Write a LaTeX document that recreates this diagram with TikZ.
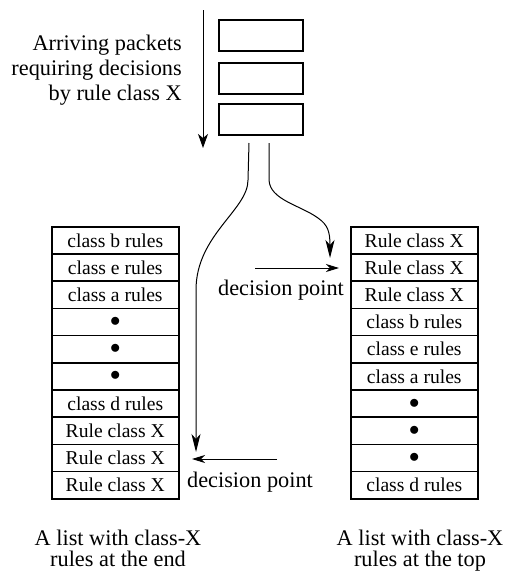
\documentclass[tikz,border=0pt]{standalone}
\usepackage{fontspec}
\setmainfont{Liberation Serif}
\usetikzlibrary{arrows.meta}
\begin{document}
\begin{tikzpicture}[x=1pt,y=-1pt,
  cell/.style={draw,line width=1.5pt,minimum width=127pt,minimum height=27.2pt,inner sep=0pt,font=\fontsize{19.6}{22}\selectfont,anchor=north west},
  pkt/.style={draw,line width=1.5pt,minimum width=84pt,minimum height=31pt,inner sep=0pt,anchor=north west},
  lbl/.style={font=\fontsize{22.3}{25}\selectfont,inner sep=0pt},
  arr/.style={line width=1pt,-{Stealth[length=14pt,width=10pt,inset=4pt]}},
  carr/.style={line width=1pt,-{Stealth[length=18pt,width=9pt,inset=5pt]}},
  darr/.style={line width=1pt,-{Stealth[length=13pt,width=8pt,inset=4pt]}}
]
\useasboundingbox (0,0) rectangle (507,573);

% arriving packets
\node[pkt] (p1) at (218,19) {};
\node[pkt] (p2) at (218,62) {};
\node[pkt] (p3) at (218,103) {};
\coordinate (vs) at (203,10);
\coordinate (ve) at (203,148);
\draw[arr] (vs) -- (ve);
\node[lbl,anchor=base east] (t1) at (182,50) {Arriving packets};
\node[lbl,anchor=base east] (t2) at (182,75) {requiring decisions};
\node[lbl,anchor=base east] (t3) at (182,100) {by rule class X};

% left list
\foreach \t [count=\i from 0] in {class b rules,class e rules,class a rules,$\bullet$,$\bullet$,$\bullet$,class d rules,Rule class X,Rule class X,Rule class X}
  \node[cell] (L\i) at (51,226+27.2*\i) {\t};

% right list
\foreach \t [count=\i from 0] in {Rule class X,Rule class X,Rule class X,class b rules,class e rules,class a rules,$\bullet$,$\bullet$,$\bullet$,class d rules}
  \node[cell] (R\i) at (350,226+27.2*\i) {\t};

% curves from packets
\coordinate (c1) at (249,143);
\coordinate (c1e) at (196,452);
\draw[carr] (c1) -- (248,180) .. controls (248,210) and (196,235) .. (196,290) -- (c1e);
\coordinate (c2) at (269,143);
\coordinate (c2e) at (330,258);
\draw[carr] (c2) -- (269,180) .. controls (270,200) and (300,205) .. (318,218) .. controls (328,225) and (330,232) .. (c2e);

% decision points
\coordinate (d1s) at (255,268);
\coordinate (d1e) at (339,268);
\draw[darr] (d1s) -- (d1e);
\node[lbl,anchor=base] (dp1) at (281,295) {decision point};
\coordinate (d2s) at (277,459);
\coordinate (d2e) at (192,459);
\draw[darr] (d2s) -- (d2e);
\node[lbl,anchor=base] (dp2) at (250,487) {decision point};

% captions
\node[lbl,anchor=base] (cl1) at (118,545) {A list with class-X};
\node[lbl,anchor=base] (cl2) at (118,566) {rules at the end};
\node[lbl,anchor=base] (cr1) at (420,545) {A list with class-X};
\node[lbl,anchor=base] (cr2) at (420,566) {rules at the top};
\end{tikzpicture}
\end{document}
